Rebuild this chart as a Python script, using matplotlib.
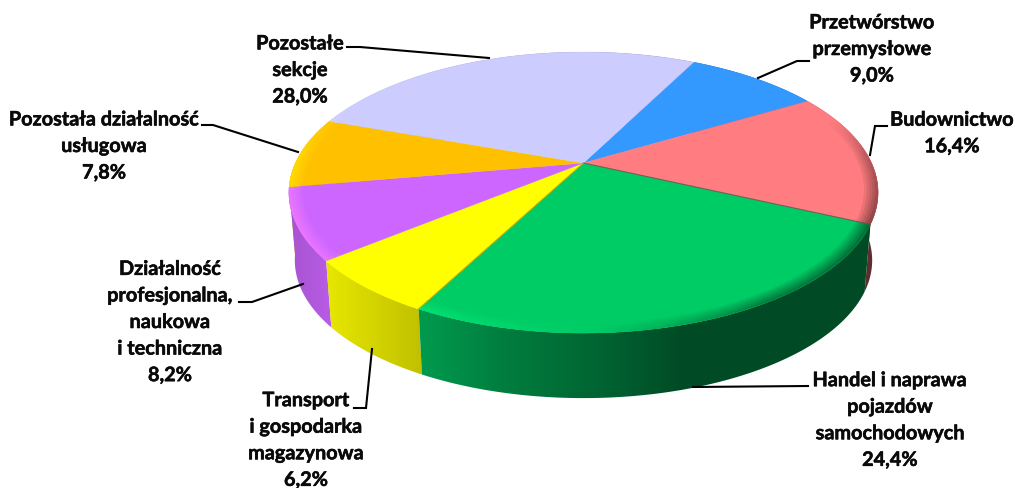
import matplotlib
matplotlib.use('Agg')
import matplotlib.pyplot as plt
from matplotlib.collections import PolyCollection
from matplotlib.patches import Polygon
import matplotlib.patheffects as pe
import numpy as np

labels = ['Przetwórstwo\nprzemysłowe', 'Budownictwo', 'Handel i naprawa\npojazdów\nsamochodowych',
          'Transport\ni gospodarka\nmagazynowa', 'Działalność\nprofesjonalna,\nnaukowa\ni techniczna',
          'Pozostała działalność\nusługowa', 'Pozostałe\nsekcje']
values = [9.0, 16.4, 24.4, 6.2, 8.2, 7.8, 28.0]
colors = ['#3399FF', '#FF7C80', '#00CC66', '#FFFF00', '#CC66FF', '#FFC000', '#CCCCFF']

# centre of each label text
label_x = [872, 952, 890, 306, 170, 104, 300]
label_y = [49, 133, 420, 440, 322, 146, 70]
# leader lines
leaders = [[(809, 61), (797, 61), (758, 78)],
           [(887, 126), (875, 126), (870, 155)],
           [(808, 386), (693, 387)],
           [(354, 408), (366, 408), (372, 349)],
           [(239, 302), (252, 302), (303, 284)],
           [(202, 125), (213, 125), (298, 152)],
           [(347, 47), (360, 47), (489, 58)]]

start = 27.0
cx, cy = 583.5, 163
k = 0.21
a = 288.0
b = 134.3
depth = 68.5
shrink = 0.98


def project(theta, r=1.0):
    # perspective view of the pie disc, theta clockwise from the top
    # the small correction is the way Excel bends angles in its 3D view
    th = np.mod(np.asarray(theta, float) - start, 360) + start
    th = th + np.interp(th, [27, 59.4, 118.4, 206.2, 228.5, 258, 286, 387],
                        [0, 0, -3.8, 1.5, 2.2, 2, 3.2, 0])
    t = np.radians(th)
    x = r * np.sin(t)
    y = r * np.cos(t)
    w = 1 + k * y
    return cx + a * x / w, cy - b * y / w


def shade(x):
    return np.interp(x, [289, 330, 418, 500, 600, 680, 880],
                     [.82, .9, .76, .62, .49, .37, .37])


def rim(theta):
    theta = np.mod(theta, 360)
    return np.interp(theta, [70, 90, 118, 150, 178, 205, 245, 270, 292],
                     [0, -.3, -.45, -.38, 0, .1, .15, .12, 0])


def tint(color, f):
    c = np.array(matplotlib.colors.to_rgb(color)) * f
    return tuple(np.clip(c, 0, 1))


fig = plt.figure(figsize=(10.15, 4.88), dpi=100)
ax = fig.add_axes([0, 0, 1, 1])
ax.axis('off')

edges = start + np.cumsum([0] + values) * 3.6

# side of the disc, lit from the left
order = []
for i in range(len(values)):
    th = np.linspace(edges[i], edges[i + 1], 120)
    x, y = project(th)
    order.append((y.mean(), i, x, y))
order.sort(key=lambda o: o[0])
xs = np.arange(280, 890)
for _, i, x, y in order:
    xb = cx + (x - cx) * shrink
    yb = cy + (y - cy) * shrink + depth
    outline = np.c_[np.r_[x, xb[::-1]], np.r_[y, yb[::-1]]]
    base = np.array(matplotlib.colors.to_rgb(colors[i]))
    grad = np.clip(base[None, None, :] * shade(xs)[None, :, None], 0, 1)
    im = ax.imshow(grad, extent=(280, 890, 488, 0), aspect='auto', interpolation='bilinear')
    clip = Polygon(outline, closed=True, transform=ax.transData)
    im.set_clip_path(clip)

ax.set_xlim(0, 1015)
ax.set_ylim(488, 0)

# top of the disc
for i in range(len(values)):
    th = np.linspace(edges[i], edges[i + 1], 120)
    x, y = project(th)
    ax.fill(np.r_[cx, x], np.r_[cy, y], color=colors[i], lw=.3)

# bevel along the rim
rings = np.linspace(.955, 1, 6)
polys = []
cols = []
for i in range(len(values)):
    th = np.arange(edges[i], edges[i + 1] + 1, 1.0)
    for r0, r1 in zip(rings[:-1], rings[1:]):
        for t0, t1 in zip(th[:-1], th[1:]):
            amount = rim(t0) * (r1 - rings[0]) / (1 - rings[0])
            if abs(amount) < .005:
                continue
            x0, y0 = project(t0, r0)
            x1, y1 = project(t1, r0)
            x2, y2 = project(t1, r1)
            x3, y3 = project(t0, r1)
            polys.append([(x0, y0), (x1, y1), (x2, y2), (x3, y3)])
            cols.append(tint(colors[i], 1 + amount))
ax.add_collection(PolyCollection(polys, facecolors=cols, edgecolors=cols, linewidths=.3))

# darker seams between the front slices
for i, col in [(2, '#7A4A50'), (3, '#B09A10')]:
    x, y = project(edges[i])
    ax.plot([cx, x], [cy, y], color=col, lw=.8, alpha=.8)

for pts in leaders:
    ax.plot([p[0] for p in pts], [p[1] for p in pts], color='black', lw=1.5,
            solid_joinstyle='miter')

for i in range(len(values)):
    pct = f'{values[i]:.1f}'.replace('.', ',') + '%'
    ax.text(label_x[i], label_y[i], labels[i] + '\n' + pct, ha='center', va='center',
            multialignment='center', family='Lato', fontweight='bold', fontsize=14.3,
            linespacing=1.41, color='#0a0a0a',
            path_effects=[pe.withStroke(linewidth=.4, foreground='#0a0a0a')])

fig.savefig('out.png', dpi=100)
